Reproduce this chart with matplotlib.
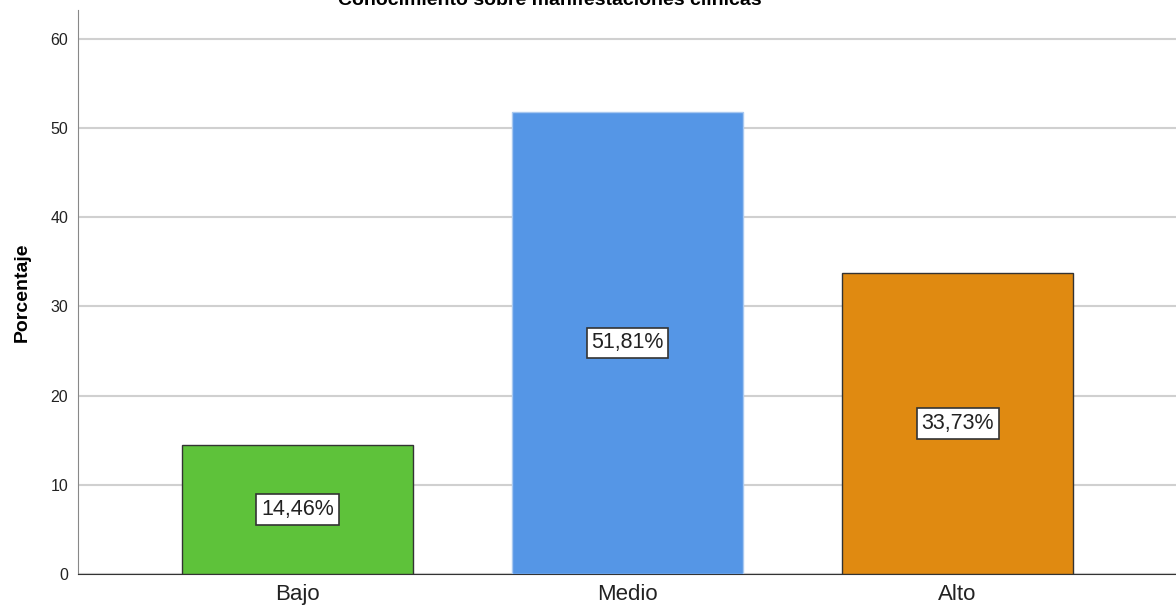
import matplotlib.pyplot as plt

plt.rcParams['font.family'] = ['Liberation Sans', 'DejaVu Sans']

categorias = ['Bajo', 'Medio', 'Alto']
porcentajes = [14.46, 51.81, 33.73]
colores = ['#5EC23A', '#5596E6', '#E08A11']
bordes = ['#333333', '#A8C8F0', '#333333']

fig = plt.figure(figsize=(11.76, 6.12), dpi=100)
ax = fig.add_axes([78 / 1176, 1 - 574 / 612, (1176 - 78) / 1176, (574 - 10) / 612])

x = range(len(categorias))
ax.bar(x, porcentajes, width=0.7, color=colores, edgecolor=bordes, linewidth=1, zorder=3)

for i, v in enumerate(porcentajes):
    etiqueta = f'{v:.2f}%'.replace('.', ',')
    ax.text(i, v / 2, etiqueta, ha='center', va='center', fontsize=15.5, color='#222222', zorder=4,
            bbox=dict(boxstyle='square,pad=0.22', facecolor='white', edgecolor='#333333', linewidth=1.2))

ax.set_xlim(-0.665, 2.662)
ax.set_ylim(0, 63.2)
ax.set_yticks(range(0, 61, 10))
ax.set_xticks(list(x))
ax.set_xticklabels(categorias, fontsize=16, color='#222222')
ax.tick_params(axis='y', length=0, pad=7, labelsize=11.5, labelcolor='#222222')
ax.tick_params(axis='x', length=0, pad=7)
ax.grid(axis='y', color='#D0D0D0', linewidth=1.5, zorder=0)

for lado in ['top', 'right']:
    ax.spines[lado].set_visible(False)
ax.spines['left'].set_color('#888888')
ax.spines['bottom'].set_color('#333333')

ax.set_ylabel('Porcentaje', fontsize=14, fontweight='bold', labelpad=14)

fig.text(550 / 1176, 1 - 5 / 612, 'Conocimiento sobre manifestaciones clínicas', ha='center', va='baseline',
         fontsize=14, fontweight='bold')

fig.savefig('out.png', dpi=100)
